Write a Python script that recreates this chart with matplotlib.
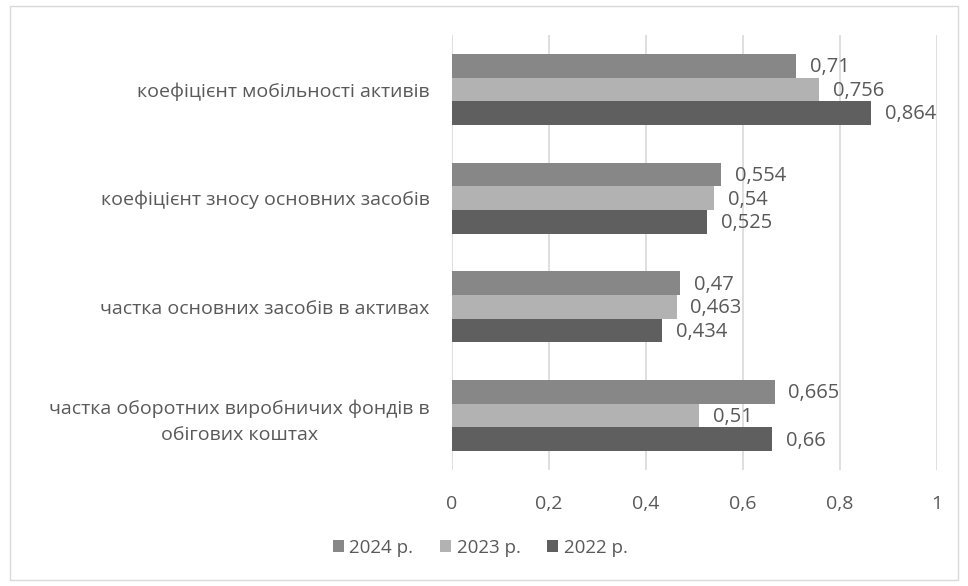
import numpy as np
import matplotlib.pyplot as plt
from matplotlib.patches import Rectangle

plt.rcParams['font.family'] = ['Open Sans', 'DejaVu Sans']

# categories listed from top to bottom, as in the picture
categories = [
    "коефіцієнт мобільності активів",
    "коефіцієнт зносу основних засобів",
    "частка основних засобів в активах",
    "частка оборотних виробничих фондів в\nобігових коштах",
]
series_names = ["2024 р.", "2023 р.", "2022 р."]
values_2024 = [0.71, 0.554, 0.47, 0.665]
values_2023 = [0.756, 0.54, 0.463, 0.51]
values_2022 = [0.864, 0.525, 0.434, 0.66]
colors = ["#878787", "#b2b2b2", "#5f5f5f"]
x_ticks = [0, 0.2, 0.4, 0.6, 0.8, 1]

text_color = "#595959"

fig = plt.figure(figsize=(9.68, 5.86), dpi=100)
ax = fig.add_axes([452 / 968, 1 - 470 / 586, (937 - 452) / 968, (470 - 35) / 586])

n = len(categories)
centers = np.arange(n)[::-1].astype(float)  # top category gets highest y
bar_h = 0.218
all_values = [values_2024, values_2023, values_2022]
offsets = [bar_h, 0, -bar_h]

for vals, col, off, name in zip(all_values, colors, offsets, series_names):
    ys = centers + off
    ax.barh(ys, vals, height=bar_h, color=col, label=name, zorder=3)
    for y, v in zip(ys, vals):
        lbl = f"{v:g}".replace(".", ",")
        ax.annotate(lbl, (v, y), xytext=(10, -1), textcoords="offset points",
                    va="center", ha="left", fontsize=14.5, color=text_color)

ax.set_xlim(0, 1)
ax.set_ylim(-0.5, n - 0.5)
ax.set_xticks(x_ticks)
ax.set_xticklabels([f"{t:g}".replace(".", ",") for t in x_ticks])
ax.set_yticks(centers)
ax.set_yticklabels(categories, multialignment="center", linespacing=1.6)
ax.tick_params(axis="both", length=0, labelsize=14, colors=text_color)
ax.tick_params(axis="x", pad=18)
ax.tick_params(axis="y", pad=16)
ax.grid(axis="x", color="#d9d9d9", linewidth=1.2, zorder=0)
for s in ax.spines.values():
    s.set_visible(False)

leg = fig.legend(loc="center", bbox_to_anchor=(480 / 968, 1 - 548 / 586), ncol=3,
                 frameon=False, fontsize=13.5, handlelength=0.6, handleheight=0.6,
                 handletextpad=0.3, columnspacing=1.4)
for t in leg.get_texts():
    t.set_color(text_color)

fig.patches.append(Rectangle((10 / 968, 6 / 586), 948 / 968, 574 / 586,
                             transform=fig.transFigure, fill=False,
                             edgecolor="#d9d9d9", linewidth=1))

fig.savefig("out.png", dpi=100)
